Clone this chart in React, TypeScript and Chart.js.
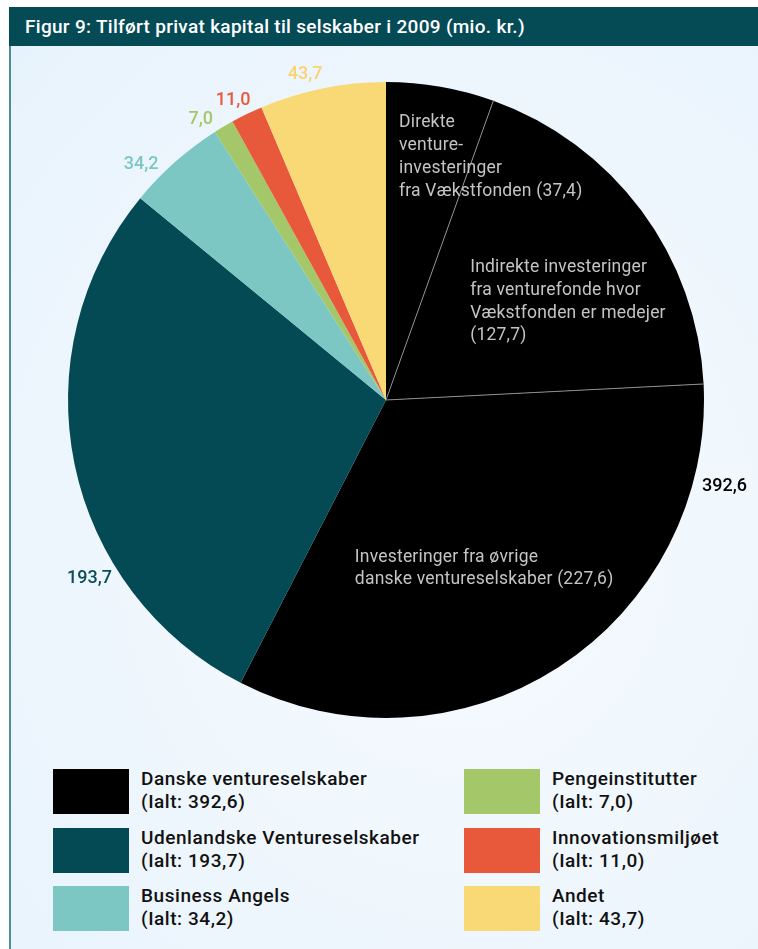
import React, { useEffect, useRef } from "react";
import { Chart, registerables } from "chart.js";

Chart.register(...registerables);

const title = "Figur 9: Tilført privat kapital til selskaber i 2009 (mio. kr.)";
const categories = [
  "Danske ventureselskaber",
  "Udenlandske Ventureselskaber",
  "Business Angels",
  "Pengeinstitutter",
  "Innovationsmiljøet",
  "Andet",
];
const totals = [392.6, 193.7, 34.2, 7.0, 11.0, 43.7];
const sliceColors = ["#000000", "#034a55", "#7cc6c3", "#a4c76a", "#e8583b", "#f9d876"];
const labelColors = ["#000000", "#0b4c57", "#7cc6c3", "#a4c76a", "#e8583b", "#f9d36e"];
// outer label angle shift (degrees) from the slice's mid-angle
const labelShift = [1.4, -20.5, -3.6, -2.3, -0.3, -2];

const danskeParts = [37.4, 127.7, 227.6];
const danskePartText = [
  ["Direkte", "venture-", "investeringer", "fra Vækstfonden"],
  ["Indirekte investeringer", "fra venturefonde hvor", "Vækstfonden er medejer", ""],
  ["Investeringer fra øvrige", "danske ventureselskaber"],
];
// anchor of inner labels: [fraction of the part's angular span, fraction of radius]
const danskePartAnchor = [
  [0.136, 0.875],
  [0.187, 0.495],
  [0.867, 0.503],
];

const FONT = "Roboto, 'DejaVu Sans Condensed', sans-serif";
const fmt = (v: number) => v.toFixed(1).replace(".", ",");

const sliceValues = [...danskeParts, ...totals.slice(1)];
const sliceGroup = [0, 0, 0, 1, 2, 3, 4, 5];

const labelPlugin = {
  id: "pieLabels",
  afterDatasetsDraw(chart: any) {
    const ctx = chart.ctx as CanvasRenderingContext2D;
    const arcs = chart.getDatasetMeta(0).data as any[];
    if (!arcs.length) return;
    const { x: cx, y: cy, outerRadius: R } = arcs[0].getProps(["x", "y", "outerRadius"], true);
    ctx.save();
    // divider lines inside the Danske slice
    ctx.strokeStyle = "#8c8c8c";
    ctx.lineWidth = 1;
    for (let i = 1; i < danskeParts.length; i++) {
      const a = arcs[i].startAngle;
      ctx.beginPath();
      ctx.moveTo(cx, cy);
      ctx.lineTo(cx + Math.cos(a) * R, cy + Math.sin(a) * R);
      ctx.stroke();
    }
    // inner labels
    ctx.fillStyle = "#c4c4c4";
    ctx.font = `17.5px ${FONT}`;
    (ctx as any).letterSpacing = "0.2px";
    ctx.textAlign = "left";
    ctx.textBaseline = "middle";
    danskeParts.forEach((v, i) => {
      const arc = arcs[i];
      const [fa, fr] = danskePartAnchor[i];
      const a = arc.startAngle + (arc.endAngle - arc.startAngle) * fa;
      const x = cx + Math.cos(a) * R * fr;
      const y = cy + Math.sin(a) * R * fr;
      const lines = danskePartText[i].slice();
      const lh = i === 2 ? 22 : 22.7;
      const last = lines.length - 1;
      lines[last] = lines[last] ? `${lines[last]} (${fmt(v)})` : `(${fmt(v)})`;
      lines.forEach((t, k) => ctx.fillText(t, x, y + 1 + k * lh));
    });
    // outer labels
    (ctx as any).letterSpacing = "0px";
    ctx.font = `500 18px ${FONT}`;
    ctx.textAlign = "center";
    categories.forEach((_, g) => {
      const idx = sliceGroup.map((s, j) => (s === g ? j : -1)).filter((j) => j >= 0);
      const s = arcs[idx[0]].startAngle;
      const e = arcs[idx[idx.length - 1]].endAngle;
      const a = (s + e) / 2 + (labelShift[g] * Math.PI) / 180;
      const ux = Math.cos(a);
      const uy = Math.sin(a);
      const text = fmt(totals[g]);
      const w = ctx.measureText(text).width;
      const h = 13;
      const r = R + 10;
      const x = cx + ux * r + ux * (w / 2);
      const y = cy + uy * r + uy * (h / 2);
      ctx.fillStyle = labelColors[g];
      ctx.fillText(text, x, y);
    });
    ctx.restore();
  },
};

function PieChart() {
  const ref = useRef<HTMLCanvasElement>(null);
  useEffect(() => {
    if (!ref.current) return;
    const chart = new Chart(ref.current, {
      type: "pie",
      data: {
        labels: sliceValues.map((_, i) => categories[sliceGroup[i]]),
        datasets: [
          {
            data: sliceValues,
            backgroundColor: sliceGroup.map((g) => sliceColors[g]),
            borderWidth: 0,
          },
        ],
      },
      options: {
        responsive: false,
        animation: false,
        layout: { padding: { left: 68, right: 54, top: 36, bottom: 32 } },
        plugins: { legend: { display: false }, tooltip: { enabled: false } },
      },
      plugins: [labelPlugin],
    });
    return () => chart.destroy();
  }, []);
  return (
    <canvas
      ref={ref}
      width={758}
      height={704}
      style={{ position: "absolute", left: 0, top: 46, width: 758, height: 704 }}
    />
  );
}

export default function App() {
  return (
    <div
      style={{
        position: "absolute",
        left: 0,
        top: 0,
        width: 758,
        height: 949,
        background: "#ffffff",
        overflow: "hidden",
        fontFamily: FONT,
      }}
    >
      <div
        style={{
          position: "absolute",
          left: 9,
          top: 46,
          right: 0,
          bottom: 0,
          borderLeft: "2px solid #4f8c95",
          background: "radial-gradient(ellipse at 60% 55%, #f6fbfe 0%, #eef6fd 60%, #e7f3fc 100%)",
        }}
      />
      <div
        style={{
          position: "absolute",
          left: 9,
          top: 7,
          width: 749,
          height: 39,
          background: "#044b56",
          color: "#ffffff",
          fontSize: 19,
          fontWeight: 500,
          letterSpacing: "0.3px",
          lineHeight: "39px",
          paddingLeft: 16,
          boxSizing: "border-box",
          whiteSpace: "nowrap",
        }}
      >
        {title}
      </div>
      <PieChart />
      {categories.map((c, i) => {
        const col = Math.floor(i / 3);
        const row = i % 3;
        const top = 769 + row * 58.5;
        const left = col === 0 ? 53 : 464;
        return (
          <div key={c}>
            <div
              style={{
                position: "absolute",
                left,
                top,
                width: 76,
                height: 45,
                background: sliceColors[i],
              }}
            />
            <div
              style={{
                position: "absolute",
                left: left + 88,
                top: top - 2,
                fontSize: 19,
                fontWeight: 500,
                letterSpacing: "0.55px",
                lineHeight: "23px",
                color: "#111111",
                whiteSpace: "nowrap",
              }}
            >
              <div>{c}</div>
              <div>{`(Ialt: ${fmt(totals[i])})`}</div>
            </div>
          </div>
        );
      })}
    </div>
  );
}
